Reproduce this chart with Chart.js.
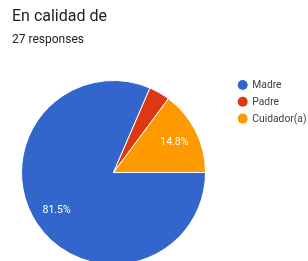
<!DOCTYPE html>
<html>
<head>
<meta charset="utf-8">
<script src="https://cdn.jsdelivr.net/npm/chart.js@4"></script>
<style>
  html, body { margin: 0; padding: 0; background: #fff; overflow: hidden; width: 308px; height: 261px; }
  #wrap { position: relative; width: 308px; height: 261px; overflow: hidden; }
  #title { position: absolute; left: 12px; top: 6px; font: 16px Roboto, Arial, sans-serif; color: #202124; white-space: nowrap; }
  #sub { position: absolute; left: 12px; top: 32px; font: 12px Roboto, Arial, sans-serif; color: #202124; white-space: nowrap; }
  canvas { position: absolute; left: 0; top: 0; }
</style>
</head>
<body>
<div id="wrap">
  <canvas id="c" width="308" height="290"></canvas>
  <div id="title">En calidad de</div>
  <div id="sub">27 responses</div>
</div>
<script>
const categories = ["Madre", "Padre", "Cuidador(a)"];
const responses = [22, 1, 4];
const colors = ["#3366cc", "#dc3912", "#ff9900"];

const total = responses.reduce((a, b) => a + b, 0);

const sliceLabels = {
  id: 'sliceLabels',
  afterDatasetsDraw(chart) {
    const ctx = chart.ctx;
    const meta = chart.getDatasetMeta(0);
    ctx.save();
    ctx.font = '10.5px Roboto, Arial, sans-serif';
    ctx.fillStyle = '#ffffff';
    ctx.textAlign = 'center';
    ctx.textBaseline = 'middle';
    meta.data.forEach((arc, i) => {
      const frac = responses[i] / total;
      if (frac < 0.05) return;
      const p = arc.getProps(['x', 'y', 'startAngle', 'endAngle', 'outerRadius'], true);
      const mid = (p.startAngle + p.endAngle) / 2;
      const r = p.outerRadius * 0.74;
      ctx.fillText((frac * 100).toFixed(1) + '%', p.x + Math.cos(mid) * r, p.y + Math.sin(mid) * r);
    });
    ctx.restore();
  }
};

const sideLegend = {
  id: 'sideLegend',
  afterDraw(chart) {
    const ctx = chart.ctx;
    ctx.save();
    ctx.font = '10.3px Roboto, Arial, sans-serif';
    ctx.textAlign = 'left';
    ctx.textBaseline = 'middle';
    chart.data.labels.forEach((lab, i) => {
      const y = 85 + i * 16.8;
      ctx.beginPath();
      ctx.arc(242.7, y, 5, 0, Math.PI * 2);
      ctx.fillStyle = chart.data.datasets[0].backgroundColor[i];
      ctx.fill();
      ctx.fillStyle = '#3c4043';
      ctx.fillText(lab, 252.3, y + 0.5);
    });
    ctx.restore();
  }
};

new Chart(document.getElementById('c'), {
  type: 'pie',
  data: {
    labels: categories,
    datasets: [{
      data: responses,
      backgroundColor: colors,
      borderColor: '#ffffff',
      borderWidth: 1
    }]
  },
  options: {
    responsive: false,
    animation: false,
    rotation: 90,
    layout: { padding: { left: 21, right: 102, top: 80, bottom: 25 } },
    plugins: {
      legend: { display: false },
      tooltip: { enabled: false },
      title: { display: false }
    }
  },
  plugins: [sliceLabels, sideLegend]
});
</script>
</body>
</html>
